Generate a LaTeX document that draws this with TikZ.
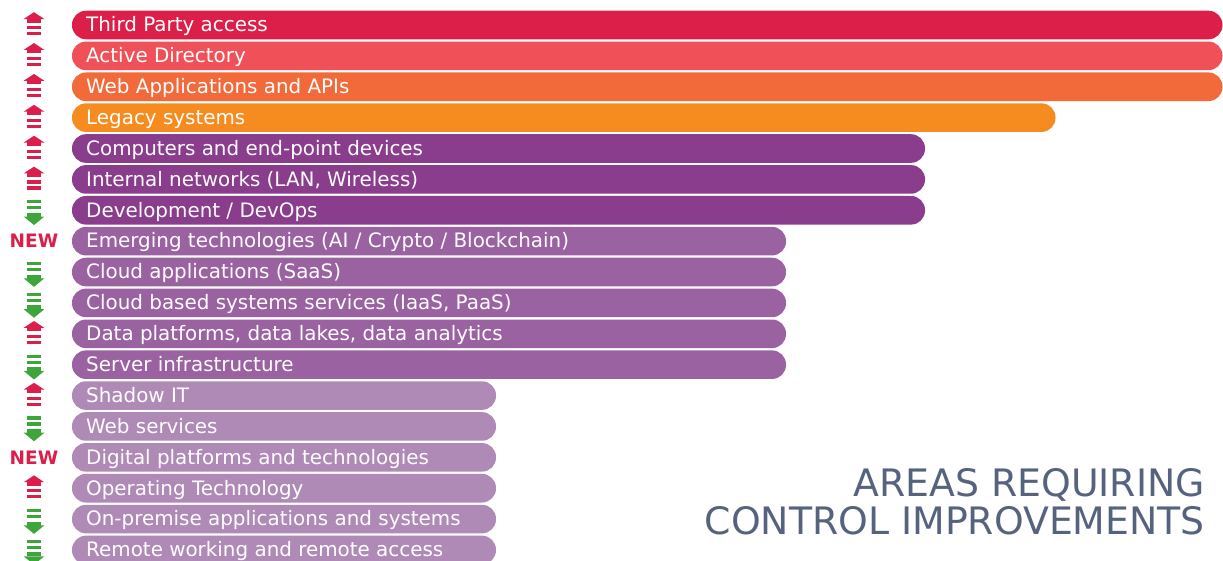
\documentclass[tikz,border=0pt]{standalone}
\usepackage{fontspec}
\setmainfont{DejaVu Sans}
\definecolor{cA}{HTML}{DB1F48}
\definecolor{cB}{HTML}{F05158}
\definecolor{cC}{HTML}{F26A3A}
\definecolor{cD}{HTML}{F68C20}
\definecolor{cE}{HTML}{893D8C}
\definecolor{cF}{HTML}{9A62A0}
\definecolor{cG}{HTML}{B08AB7}
\definecolor{arrred}{HTML}{DC1F4A}
\definecolor{arrgreen}{HTML}{3EA53A}
\definecolor{titlecol}{HTML}{56637F}
\begin{document}
\begin{tikzpicture}[x=1pt,y=-1pt,
  bartext/.style={text=white,font=\fontsize{19.9}{21}\selectfont,anchor=base west,inner sep=0pt},
  newtext/.style={text=arrred,font=\bfseries\fontsize{18.5}{20}\selectfont,anchor=base,inner sep=0pt},
  titletext/.style={text=titlecol,font=\fontsize{37.8}{40}\selectfont,anchor=base east,inner sep=0pt},
  uparr/.pic={
    \fill[arrred] (0,-12.8) -- (10.3,-6) -- (-10.3,-6) -- cycle;
    \fill[arrred] (-6.8,-6.2) rectangle (6.8,-2.5);
    \fill[arrred] (-6.8,1) rectangle (6.8,4.2);
    \fill[arrred] (-6.8,7) rectangle (6.8,10.2);
  },
  downarr/.pic={
    \fill[arrgreen] (0,14.8) -- (10.3,6.3) -- (-10.3,6.3) -- cycle;
    \fill[arrgreen] (-6.8,6.5) rectangle (6.8,2.5);
    \fill[arrgreen] (-6.8,-0.8) rectangle (6.8,-4);
    \fill[arrgreen] (-6.8,-6.8) rectangle (6.8,-10);
  }]
\useasboundingbox (0,0) rectangle (1223,560);
\clip (0,0) rectangle (1223,560);
\fill[white] (0,0) rectangle (1223,560);
\foreach \i/\txt/\col/\xr in {
  0/{Third Party access}/cA/1222.5,
  1/{Active Directory}/cB/1222.5,
  2/{Web Applications and APIs}/cC/1222.5,
  3/{Legacy systems}/cD/1055.5,
  4/{Computers and end-point devices}/cE/925,
  5/{Internal networks (LAN, Wireless)}/cE/925,
  6/{Development / DevOps}/cE/925,
  7/{Emerging technologies (AI / Crypto / Blockchain)}/cF/786,
  8/{Cloud applications (SaaS)}/cF/786,
  9/{Cloud based systems services (IaaS, PaaS)}/cF/786,
  10/{Data platforms, data lakes, data analytics}/cF/786,
  11/{Server infrastructure}/cF/786,
  12/{Shadow IT}/cG/496,
  13/{Web services}/cG/496,
  14/{Digital platforms and technologies}/cG/496,
  15/{Operating Technology}/cG/496,
  16/{On-premise applications and systems}/cG/496,
  17/{Remote working and remote access}/cG/496}{
  \pgfmathsetmacro\c{25+30.88*\i}
  \fill[\col, rounded corners=14pt] (72,{\c-14.3}) rectangle (\xr,{\c+14.3});
  \node[bartext] (t\i) at (86,{\c+6.8}) {\txt};
}
\foreach \i in {0,1,2,3,4,5,10,12,15}{
  \pic at (34,{25+30.88*\i}) {uparr};
}
\foreach \i in {6,8,9,11,13,16,17}{
  \pic at (34,{25+30.88*\i}) {downarr};
}
\node[newtext] (new1) at (34,{25+30.88*7+6.8}) {NEW};
\node[newtext] (new2) at (34,{25+30.88*14+6.8}) {NEW};
\node[titletext] (title1) at (1205,496) {AREAS REQUIRING};
\node[titletext] (title2) at (1205,534) {CONTROL IMPROVEMENTS};
\end{tikzpicture}
\end{document}
